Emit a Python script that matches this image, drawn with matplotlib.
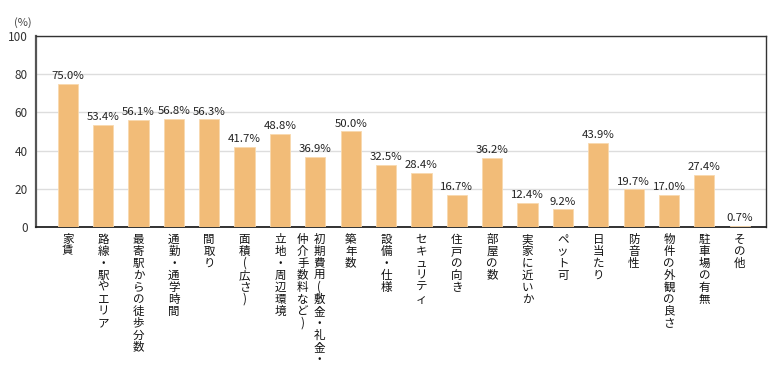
import matplotlib
matplotlib.use("Agg")
import matplotlib.pyplot as plt

# Categories: each entry is a list of vertical columns (right column first)
categories = [
    ["家賃"],
    ["路線・駅やエリア"],
    ["最寄駅からの徒歩分数"],
    ["通勤・通学時間"],
    ["間取り"],
    ["面積(広さ)"],
    ["立地・周辺環境"],
    ["初期費用(敷金・礼金・", "仲介手数料など)"],
    ["築年数"],
    ["設備・仕様"],
    ["セキュリティ"],
    ["住戸の向き"],
    ["部屋の数"],
    ["実家に近いか"],
    ["ペット可"],
    ["日当たり"],
    ["防音性"],
    ["物件の外観の良さ"],
    ["駐車場の有無"],
    ["その他"],
]
values = [75.0, 53.4, 56.1, 56.8, 56.3, 41.7, 48.8, 36.9, 50.0, 32.5,
          28.4, 16.7, 36.2, 12.4, 9.2, 43.9, 19.7, 17.0, 27.4, 0.7]
y_ticks = [0, 20, 40, 60, 80, 100]

JP = ["Noto Sans CJK JP", "DejaVu Sans"]
bar_color = "#F2BC78"

fig = plt.figure(figsize=(7.8, 3.7), dpi=100)
ax = fig.add_axes([0.046, 0.3865, 0.936, 0.5162])

x = list(range(len(values)))
ax.bar(x, values, width=0.57, color=bar_color, edgecolor="#F8D9AE",
       linewidth=0.6, zorder=3)

# Value labels above each bar
for xi, v in zip(x, values):
    ax.text(xi, v + 1.5, "%.1f%%" % v, ha="center", va="bottom",
            fontsize=8.2, color="#222222", family=JP, zorder=4)

ax.set_xlim(-0.9, len(values) - 1 + 0.74)
ax.set_ylim(0, 100)
ax.set_yticks(y_ticks)
ax.set_yticklabels([str(t) for t in y_ticks], family=JP, fontsize=8.5,
                   color="#333333")
ax.set_xticks([])
ax.tick_params(axis="y", length=0, pad=6)
ax.yaxis.grid(True, color="#DDDDDD", linewidth=1.0, zorder=0)
ax.set_axisbelow(True)

for side in ["top", "right"]:
    ax.spines[side].set_color("#333333")
    ax.spines[side].set_linewidth(1.0)
ax.spines["left"].set_color("#555555")
ax.spines["left"].set_linewidth(1.6)
ax.spines["bottom"].set_color("#222222")
ax.spines["bottom"].set_linewidth(1.3)

# "(%)" unit label
fig.text(0.029, 0.94, "(%)", ha="center", va="center", fontsize=8,
         color="#444444", family=JP)

# Vertical (stacked) category labels below the axis
col_gap = 0.47
for xi, cols in zip(x, categories):
    n = len(cols)
    for ci, col in enumerate(cols):
        offset = ((n - 1) / 2.0 - ci) * col_gap
        ax.text(xi + offset - (0.12 if n > 1 else 0), -3, "\n".join(col),
                ha="center", va="top", fontsize=8.3, color="#111111",
                family=JP, linespacing=0.90, clip_on=False)

fig.savefig("out.png", dpi=100)
